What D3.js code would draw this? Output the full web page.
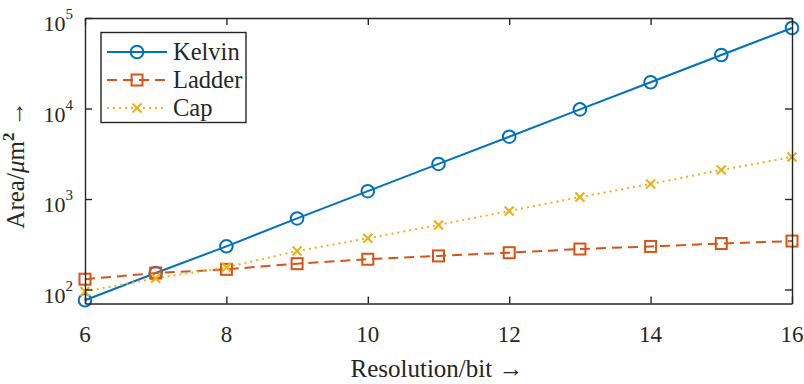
<!DOCTYPE html>
<html><head><meta charset="utf-8">
<script src="https://cdn.jsdelivr.net/npm/d3@7"></script>
</head><body style="margin:0"><svg id="c" width="804" height="384" font-family="Liberation Serif"></svg>
<script>
const resolution = [6,7,8,9,10,11,12,13,14,15,16];
const kelvin = [76,152,300,610,1220,2440,4880,9770,19500,39000,77600];
const ladder = [130,152,167,193,216,235,255,280,299,322,343];
const cap = [95,133,176,266,368,517,737,1050,1466,2090,2910];
const xTicks = [6,8,10,12,14,16];
const yTicks = [2,3,4,5];
const seriesNames = ["Kelvin","Ladder","Cap"];

const FONT="'Liberation Serif'";
const svg = d3.select("#c");
const L=85,R=792,T=18,B=303.5;
const x = d3.scaleLinear().domain([6,16]).range([L,R]);
const y = d3.scaleLog().domain([Math.pow(10,2-(B-289.5)/90.5), Math.pow(10,5)]).range([B,T]);
const ax="#262626";
function txt(parent){return parent.append("text").style("font-family",FONT).attr("fill",ax);}

const series=[
 {name:seriesNames[0],v:kelvin,c:"#0072BD",dash:null,m:"o"},
 {name:seriesNames[1],v:ladder,c:"#D95319",dash:"10,6",m:"s"},
 {name:seriesNames[2],v:cap,c:"#EDB120",dash:"2,4",m:"x"}];

function marker(g,type,c){
  if(type==="o") g.append("circle").attr("r",6.3).attr("fill","none").attr("stroke",c).attr("stroke-width",2);
  else if(type==="s") g.append("rect").attr("x",-5.5).attr("y",-5.5).attr("width",11).attr("height",11).attr("fill","none").attr("stroke",c).attr("stroke-width",2);
  else g.append("path").attr("d","M-4.5,-4.5L4.5,4.5M-4.5,4.5L4.5,-4.5").attr("stroke",c).attr("stroke-width",2.2);
}
const line=d3.line().x((d,i)=>x(resolution[i])).y(d=>y(d));
series.forEach(s=>{
  svg.append("path").attr("d",line(s.v)).attr("fill","none").attr("stroke",s.c).attr("stroke-width",2).attr("stroke-dasharray",s.dash);
});
series.forEach(s=>{
  s.v.forEach((d,i)=>{marker(svg.append("g").attr("transform",`translate(${x(resolution[i])},${y(d)})`),s.m,s.c);});
});

const gx=svg.append("g").attr("transform",`translate(0,${B})`).call(d3.axisBottom(x).tickValues(xTicks).tickSize(-7).tickFormat("").tickSizeOuter(0));
const gx2=svg.append("g").attr("transform",`translate(0,${T})`).call(d3.axisTop(x).tickValues(xTicks).tickSize(-7).tickFormat("").tickSizeOuter(0));
const yv=yTicks.map(e=>Math.pow(10,e));
const gy=svg.append("g").attr("transform",`translate(${L},0)`).call(d3.axisLeft(y).tickValues(yv).tickSize(-7).tickFormat("").tickSizeOuter(0));
const gy2=svg.append("g").attr("transform",`translate(${R},0)`).call(d3.axisRight(y).tickValues(yv).tickSize(-7).tickFormat("").tickSizeOuter(0));
[gx,gx2,gy,gy2].forEach(g=>{g.selectAll("path.domain").attr("stroke",ax).attr("stroke-width",1.4);g.selectAll(".tick line").attr("stroke",ax).attr("stroke-width",1.4);});

xTicks.forEach(v=>{
  txt(svg).attr("x",x(v)).attr("y",342).attr("text-anchor","middle").attr("font-size",23).text(String(v));
});
yTicks.forEach(e=>{
  const t=txt(svg).attr("x",73).attr("y",y(Math.pow(10,e))+13).attr("text-anchor","end").attr("font-size",22);
  t.append("tspan").text("10");
  t.append("tspan").attr("dy",-12).attr("font-size",15).text(String(e));
});

txt(svg).attr("x",437).attr("y",377).attr("text-anchor","middle").attr("font-size",25).text("Resolution/bit →");
const yl=txt(svg).attr("transform","translate(24,165) rotate(-90)").attr("text-anchor","middle").attr("font-size",25);
yl.append("tspan").text("Area/");
yl.append("tspan").attr("font-style","italic").text("μ");
yl.append("tspan").text("m");
yl.append("tspan").attr("dy",-10).attr("font-size",17).attr("font-weight","bold").text("2");
yl.append("tspan").attr("dy",10).text(" →");

const lg=svg.append("g");
lg.append("rect").attr("x",101).attr("y",32.5).attr("width",145).attr("height",90).attr("fill","#fff").attr("stroke",ax).attr("stroke-width",1.4);
series.forEach((s,i)=>{
  const yy=52+i*28;
  lg.append("line").attr("x1",107).attr("x2",167).attr("y1",yy).attr("y2",yy).attr("stroke",s.c).attr("stroke-width",2).attr("stroke-dasharray",s.dash);
  marker(lg.append("g").attr("transform",`translate(137,${yy})`),s.m,s.c);
  txt(lg).attr("x",173).attr("y",yy+8).attr("font-size",24.5).text(s.name);
});
</script></body></html>
